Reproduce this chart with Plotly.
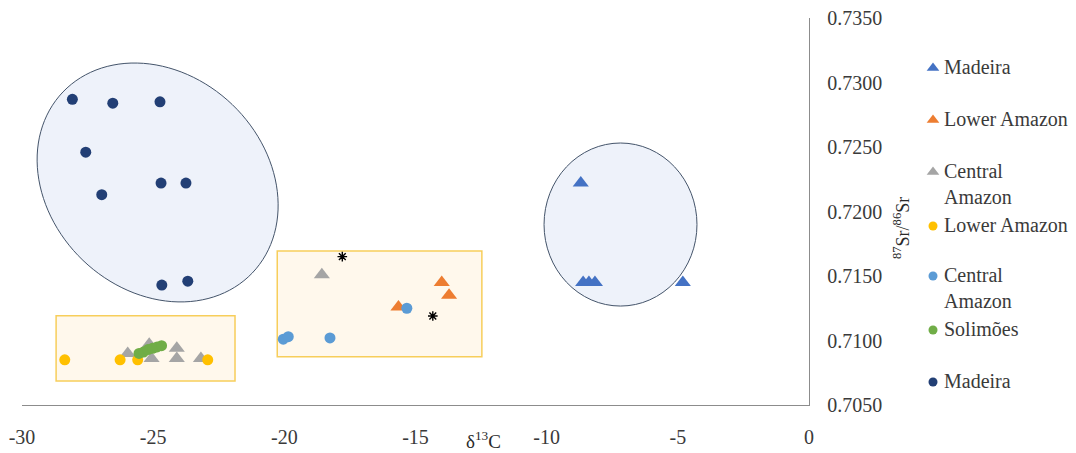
import numpy as np
import plotly.graph_objects as go

# ---------------- data ----------------
madeira_tri_x = [-8.70, -8.61, -8.39, -8.16, -4.81]
madeira_tri_y = [0.7222, 0.7145, 0.7145, 0.7145, 0.7145]

lower_tri_x = [-15.65, -14.00, -13.72]
lower_tri_y = [0.7126, 0.7145, 0.7135]

central_tri_x = [-18.57, -25.97, -25.15, -25.06, -24.10, -24.10, -23.18]
central_tri_y = [0.7151, 0.7090, 0.7097, 0.7086, 0.7094, 0.7086, 0.7086]

lower_circ_x = [-28.37, -26.26, -25.59, -22.92]
lower_circ_y = [0.7085, 0.7085, 0.7085, 0.7085]

central_circ_x = [-20.04, -19.85, -18.26, -15.33]
central_circ_y = [0.7101, 0.7103, 0.7102, 0.7125]

solimoes_x = [-25.54, -25.37, -25.20, -25.02, -24.85, -24.68]
solimoes_y = [0.7090, 0.7091, 0.7093, 0.7094, 0.7095, 0.7096]

madeira_circ_x = [-28.08, -26.54, -24.74, -27.57, -26.96, -24.70, -23.75, -24.67, -23.68]
madeira_circ_y = [0.7287, 0.7284, 0.7285, 0.7246, 0.7213, 0.7222, 0.7222, 0.7143, 0.7146]

asterisk_x = [-17.79, -14.34]
asterisk_y = [0.7165, 0.7119]

x_tick_vals = [-30, -25, -20, -15, -10, -5, 0]
x_tick_text = ["-30", "-25", "-20", "-15", "-10", "-5", "0"]
y_tick_vals = [0.705, 0.710, 0.715, 0.720, 0.725, 0.730, 0.735]
y_tick_text = ["0.7050", "0.7100", "0.7150", "0.7200", "0.7250", "0.7300", "0.7350"]

legend_labels = ["Madeira", "Lower Amazon", "Central<br>Amazon", "Lower Amazon",
                 "Central<br>Amazon", "Solimões", "Madeira"]

# ---------------- styles ----------------
FONT = "Liberation Serif, Times New Roman, serif"
TXT = "#3a3a3a"
C_BLUE = "#4472C4"
C_ORANGE = "#ED7D31"
C_GRAY = "#A5A5A5"
C_GOLD = "#FFC000"
C_LBLUE = "#5B9BD5"
C_GREEN = "#70AD47"
C_NAVY = "#223F75"

legend_symbols = ["triangle-up"] * 3 + ["circle"] * 4
legend_colors = [C_BLUE, C_ORANGE, C_GRAY, C_GOLD, C_LBLUE, C_GREEN, C_NAVY]
legend_rows_px = [68, 120, 172, 226, 276, 330, 382]

OFF = 8  # page body margin
W, H = 1076 - OFF, 453 - OFF
ML, MT = 22 - OFF, 18 - OFF
MR = 0
MB = H - (405 - OFF)
PW = W - ML - MR
PH = H - MT - MB
x_domain_end = (809 - OFF - ML) / PW
leg_d0 = 0.76
leg_x0 = ML + leg_d0 * PW + OFF


def px_to_paper(sx, sy):
    return (sx - OFF - ML) / PW, (H - MB - (sy - OFF)) / PH


fig = go.Figure()

TRI = 14
CIR = 11
series = [
    (madeira_tri_x, madeira_tri_y, "triangle-up", C_BLUE, TRI),
    (lower_tri_x, lower_tri_y, "triangle-up", C_ORANGE, TRI),
    (central_tri_x, central_tri_y, "triangle-up", C_GRAY, TRI),
    (lower_circ_x, lower_circ_y, "circle", C_GOLD, CIR),
    (central_circ_x, central_circ_y, "circle", C_LBLUE, CIR),
    (solimoes_x, solimoes_y, "circle", C_GREEN, CIR),
    (madeira_circ_x, madeira_circ_y, "circle", C_NAVY, CIR),
]
for (xs, ys, sym, col, sz), name in zip(series, legend_labels):
    fig.add_trace(go.Scatter(x=xs, y=ys, mode="markers", name=name.replace("<br>", " "),
                             marker=dict(symbol=sym, color=col, size=sz, line=dict(width=0)),
                             showlegend=False))

fig.add_trace(go.Scatter(x=asterisk_x, y=asterisk_y, mode="markers", showlegend=False,
                         marker=dict(symbol="asterisk-open", size=8, color="black",
                                     line=dict(width=1.4, color="black"))))

# manual legend on a pixel-scaled overlay axis (values = screen pixels)
for lab, sym, col, row in zip(legend_labels, legend_symbols, legend_colors, legend_rows_px):
    fig.add_trace(go.Scatter(x=[933], y=[row], xaxis="x2", yaxis="y2", mode="markers",
                             showlegend=False, cliponaxis=False, hoverinfo="skip",
                             marker=dict(symbol=sym, color=col, size=11 if sym != "circle" else 9,
                                         line=dict(width=0))))
    fig.add_annotation(x=942, y=row - 14, xref="x2", yref="y2", text=lab, showarrow=False,
                       xanchor="left", yanchor="top", align="left",
                       font=dict(family=FONT, size=20, color=TXT))

# axis titles
ytx, yty = px_to_paper(901, 228)
fig.add_annotation(x=ytx, y=yty, xref="paper", yref="paper", text="<sup>87</sup>Sr/<sup>86</sup>Sr",
                   textangle=-90, showarrow=False, xanchor="center", yanchor="middle",
                   font=dict(family=FONT, size=18, color="#2a2a2a"))
xtx, xty = px_to_paper(483, 440)
fig.add_annotation(x=xtx, y=xty, xref="paper", yref="paper", text="δ<sup>13</sup>C",
                   showarrow=False, xanchor="center", yanchor="middle",
                   font=dict(family=FONT, size=19, color="#2a2a2a"))

# ---------------- shapes ----------------
ell_c = (-24.83, 0.72225)
ell_a = (3.607, -0.00702)
ell_b = (-2.845, -0.00604)
t = np.linspace(0, 2 * np.pi, 121)
ex = ell_c[0] + np.cos(t) * ell_a[0] + np.sin(t) * ell_b[0]
ey = ell_c[1] + np.cos(t) * ell_a[1] + np.sin(t) * ell_b[1]
path = "M " + " L ".join(f"{a:.4f},{b:.6f}" for a, b in zip(ex, ey)) + " Z"
fig.add_shape(type="path", path=path, xref="x", yref="y", layer="below",
              fillcolor="#EEF2FA", line=dict(color="#44546A", width=1))
fig.add_shape(type="circle", xref="x", yref="y", x0=-10.10, x1=-4.27, y0=0.71267, y1=0.72531,
              layer="below", fillcolor="#EEF2FA", line=dict(color="#44546A", width=1))
fig.add_shape(type="rect", xref="x", yref="y", x0=-28.70, x1=-21.88, y0=0.70686, y1=0.71192,
              layer="below", fillcolor="#FFF8EC", line=dict(color="#F7CE5B", width=1.5))
fig.add_shape(type="rect", xref="x", yref="y", x0=-20.27, x1=-12.47, y0=0.70874, y1=0.71694,
              layer="below", fillcolor="#FFF8EC", line=dict(color="#F7CE5B", width=1.5))

fig.update_layout(
    width=W, height=H,
    margin=dict(l=ML, r=MR, t=MT, b=MB, autoexpand=False),
    paper_bgcolor="white", plot_bgcolor="white",
    font=dict(family=FONT, size=20, color=TXT),
    xaxis=dict(domain=[0, x_domain_end], range=[-30, 0], showgrid=False, zeroline=False,
               showline=True, linecolor="#8c8c8c", linewidth=1.3, ticks="", automargin=False,
               tickvals=x_tick_vals, ticktext=x_tick_text,
               ticklabelstandoff=14, ticklabeloverflow="allow",
               tickfont=dict(family=FONT, size=20, color=TXT)),
    yaxis=dict(domain=[0, 1], range=[0.705, 0.735], side="right", showgrid=False,
               zeroline=False, showline=True, linecolor="#8c8c8c", linewidth=1.3, ticks="",
               automargin=False, ticklabeloverflow="allow",
               tickvals=y_tick_vals, ticktext=y_tick_text,
               ticklabelstandoff=13,
               tickfont=dict(family=FONT, size=20, color=TXT)),
    xaxis2=dict(domain=[leg_d0, 1], range=[leg_x0, W + OFF], anchor="y2", visible=False,
                fixedrange=True, automargin=False),
    yaxis2=dict(domain=[0, 1], range=[H - MB + OFF, MT + OFF], anchor="x2", visible=False,
                fixedrange=True, automargin=False),
    showlegend=False,
)

fig.write_html("out.html")
